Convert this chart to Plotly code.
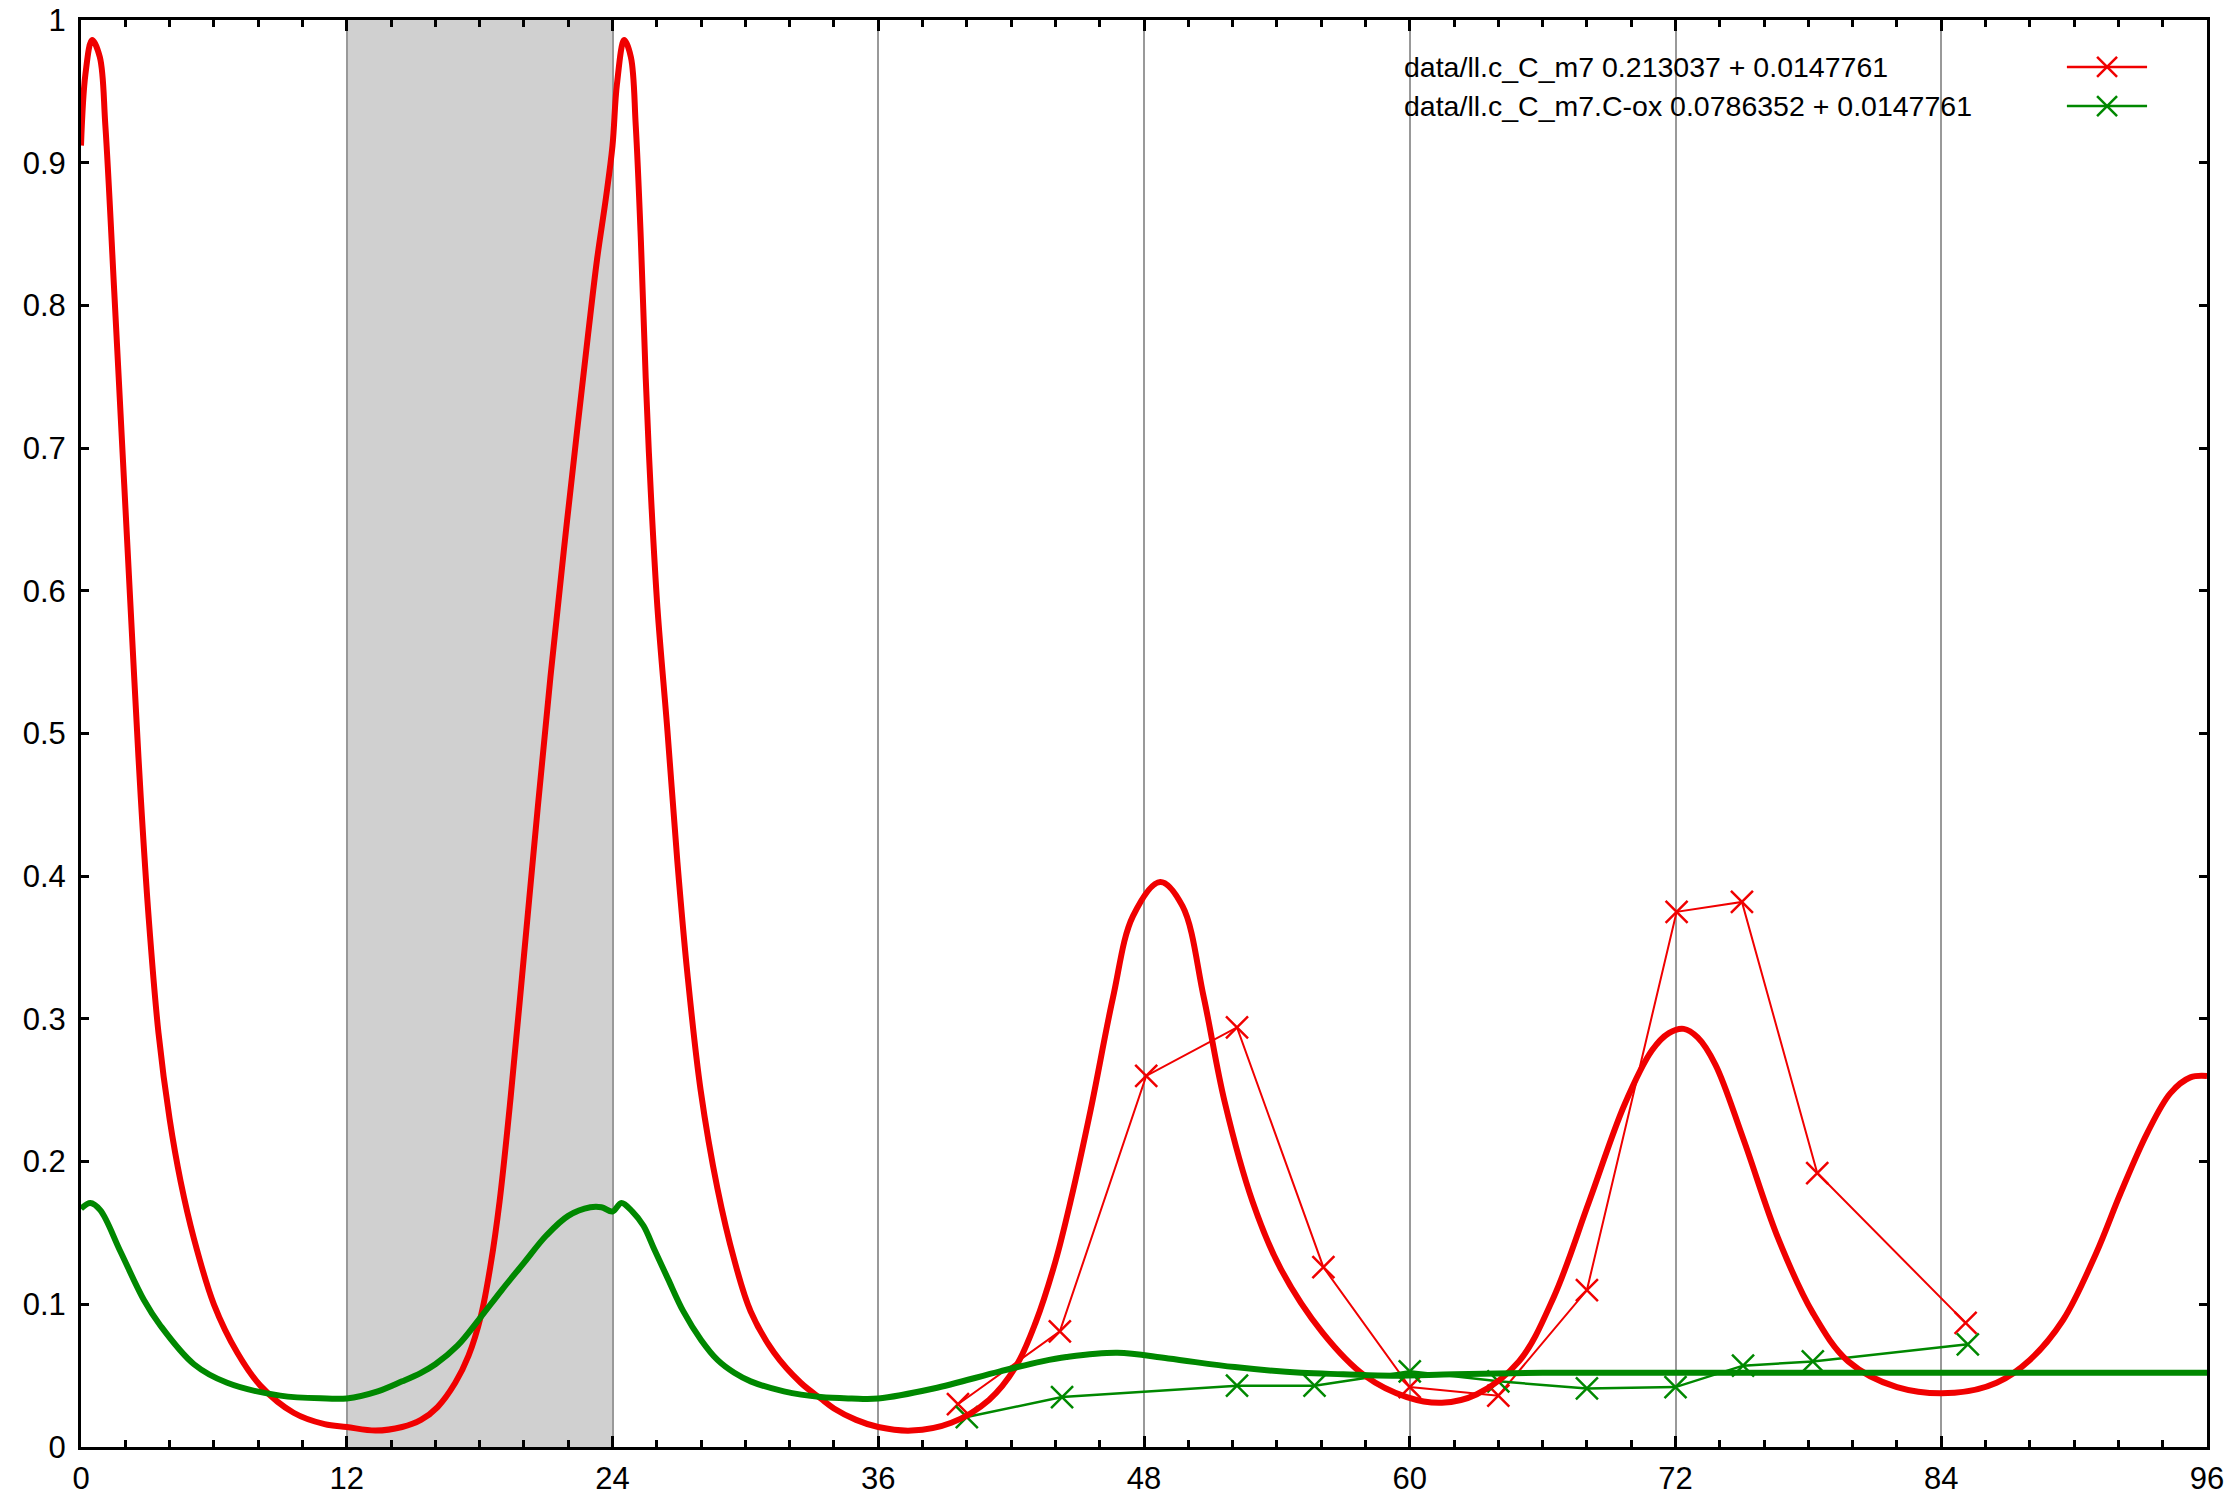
import plotly.graph_objects as go

# measured data (markers)
red_obs_t = [39.6, 44.2, 48.1, 52.2, 56.1, 60.0, 64.0, 68.0, 72.05, 75.0, 78.4, 85.1]
red_obs_v = [0.030, 0.081, 0.260, 0.294, 0.126, 0.042, 0.036, 0.110, 0.375, 0.382, 0.192, 0.087]

green_obs_t = [40.0, 44.3, 52.2, 55.7, 60.0, 64.0, 68.0, 72.0, 75.05, 78.2, 85.2]
green_obs_v = [0.021, 0.035, 0.043, 0.043, 0.053, 0.046, 0.041, 0.042, 0.057, 0.060, 0.072]

# model curves
red_fit_t = [0, 0.2, 0.5, 0.85, 1.1, 1.5, 1.8, 2.1, 2.4, 2.7, 3.06, 3.5, 4.0, 4.5, 5.1, 6.0,
             7.06, 8.1, 9.6, 11.0, 12.0, 13.3, 14.5, 15.35, 16.1, 16.9, 17.5, 18.06, 18.5,
             18.9, 19.4, 20.0, 20.6, 21.2, 21.8, 22.4, 22.9, 23.3, 23.7, 24.0, 24.2, 24.53,
             24.83, 25.05, 25.28, 25.5, 25.73, 26.03, 26.48, 26.93, 27.38, 27.98, 28.74,
             29.5, 30.24, 31.3, 32.5, 33.4, 34.0, 35.0, 36.0, 37.5, 39.3, 41.0, 42.2, 43.1,
             44.0, 44.68, 45.6, 46.6, 47.5, 48.73, 49.74, 50.7, 51.64, 52.9, 54.17, 56.07,
             57.97, 59.87, 61.45, 63.03, 64.93, 66.5, 68.1, 69.7, 70.94, 71.7, 72.37, 73.0,
             73.8, 75.06, 76.64, 78.2, 79.8, 82.0, 84.6, 86.5, 88.0, 89.5, 91.0, 92.1, 93.3,
             94.35, 95.25, 96.0]
red_fit_v = [0.912, 0.962, 0.986, 0.974, 0.926, 0.81, 0.72, 0.63, 0.54, 0.455, 0.37, 0.29,
             0.23, 0.186, 0.146, 0.100, 0.066, 0.043, 0.024, 0.016, 0.014, 0.0115, 0.014,
             0.019, 0.028, 0.045, 0.064, 0.092, 0.128, 0.172, 0.245, 0.344, 0.444, 0.540,
             0.628, 0.712, 0.78, 0.832, 0.875, 0.912, 0.955, 0.986, 0.974, 0.926, 0.846,
             0.749, 0.669, 0.588, 0.502, 0.41, 0.332, 0.250, 0.181, 0.131, 0.095, 0.066,
             0.045, 0.034, 0.027, 0.019, 0.014, 0.0115, 0.017, 0.033, 0.056, 0.087, 0.130,
             0.172, 0.237, 0.315, 0.372, 0.396, 0.379, 0.315, 0.242, 0.172, 0.125, 0.080,
             0.050, 0.035, 0.031, 0.037, 0.060, 0.105, 0.172, 0.240, 0.278, 0.290, 0.293,
             0.287, 0.268, 0.216, 0.146, 0.094, 0.060, 0.042, 0.038, 0.045, 0.061, 0.089,
             0.136, 0.178, 0.220, 0.248, 0.259, 0.260]

green_fit_t = [0, 0.42, 0.87, 1.78, 2.84, 3.59, 5.1, 6.6, 9.0, 11.1, 12.0, 13.4, 14.5, 15.35,
               16.0, 17.0, 18.0, 19.0, 20.0, 21.0, 22.0, 23.0, 23.5, 24.0, 24.4, 24.9,
               25.4, 25.9, 26.5, 27.2, 28.0, 28.74, 29.5, 30.24, 31.74, 33.4, 34.8, 36.0,
               38.5, 41.5, 43.4, 44.5, 46.8, 49.1, 52.1, 55.1, 57.0, 59.2, 62.0, 66.0, 70.0,
               75.0, 80.0, 90.0, 96.0]
green_fit_v = [0.167, 0.171, 0.166, 0.137, 0.103, 0.085, 0.058, 0.045, 0.036, 0.034, 0.034,
               0.039, 0.046, 0.052, 0.058, 0.071, 0.090, 0.110, 0.129, 0.148, 0.162, 0.168,
               0.168, 0.165, 0.171, 0.165, 0.155, 0.138, 0.118, 0.095, 0.075, 0.061, 0.052,
               0.046, 0.039, 0.035, 0.034, 0.034, 0.041, 0.053, 0.060, 0.063, 0.066, 0.062,
               0.056, 0.052, 0.051, 0.050, 0.051, 0.052, 0.052, 0.052, 0.052, 0.052, 0.052]

x_ticks = [0, 12, 24, 36, 48, 60, 72, 84, 96]
y_ticks = [0, 0.1, 0.2, 0.3, 0.4, 0.5, 0.6, 0.7, 0.8, 0.9, 1]
y_ticktext = ["0", "0.1", "0.2", "0.3", "0.4", "0.5", "0.6", "0.7", "0.8", "0.9", "1"]

legend_labels = ["data/ll.c_C_m7 0.213037 + 0.0147761",
                 "data/ll.c_C_m7.C-ox 0.0786352 + 0.0147761"]
dark_start, dark_end = 12, 24

RED = "#f00000"
GREEN = "#008800"
FONT = "Liberation Sans Narrow, Liberation Sans, Arial, sans-serif"

fig = go.Figure()

fig.add_trace(go.Scatter(x=red_obs_t, y=red_obs_v, mode="lines+markers",
                         line=dict(color=RED, width=2),
                         marker=dict(symbol="x-thin", size=22, line=dict(color=RED, width=2.5))))
fig.add_trace(go.Scatter(x=green_obs_t, y=green_obs_v, mode="lines+markers",
                         line=dict(color=GREEN, width=2.5),
                         marker=dict(symbol="x-thin", size=22, line=dict(color=GREEN, width=2.5))))
fig.add_trace(go.Scatter(x=red_fit_t, y=red_fit_v, mode="lines",
                         line=dict(color=RED, width=6, shape="spline", smoothing=1)))
fig.add_trace(go.Scatter(x=green_fit_t, y=green_fit_v, mode="lines",
                         line=dict(color=GREEN, width=6, shape="spline", smoothing=1)))

# night shading
fig.add_shape(type="rect", xref="x", yref="y", x0=dark_start, x1=dark_end, y0=0, y1=1,
              fillcolor="#d0d0d0", line=dict(width=0), layer="below")
# key background (hides grid lines behind the key)
fig.add_shape(type="rect", xref="paper", yref="paper", x0=0.618, x1=0.978, y0=0.928, y1=0.980,
              fillcolor="white", line=dict(width=0), layer="between")

# gnuplot style key: text on the left, sample on the right
key_y = [0.9671, 0.9397]
key_colors = [RED, GREEN]
sx0, sx1, sxc = 0.9341, 0.9718, 0.953
dx, dy = 0.0047, 0.0070
for lab, ky, col in zip(legend_labels, key_y, key_colors):
    fig.add_annotation(text=lab, xref="paper", yref="paper", x=0.6213, y=ky,
                       xanchor="left", yanchor="middle", showarrow=False,
                       font=dict(family=FONT, size=28.5, color="black"))
    fig.add_shape(type="line", xref="paper", yref="paper", x0=sx0, x1=sx1, y0=ky, y1=ky,
                  line=dict(color=col, width=2.5))
    fig.add_shape(type="line", xref="paper", yref="paper", x0=sxc - dx, x1=sxc + dx,
                  y0=ky - dy, y1=ky + dy, line=dict(color=col, width=2.5))
    fig.add_shape(type="line", xref="paper", yref="paper", x0=sxc - dx, x1=sxc + dx,
                  y0=ky + dy, y1=ky - dy, line=dict(color=col, width=2.5))

fig.update_layout(
    width=2238, height=1505,
    margin=dict(l=81, r=31, t=20, b=58),
    paper_bgcolor="white", plot_bgcolor="white",
    font=dict(family=FONT, size=31, color="black"),
    showlegend=False,
)
fig.update_xaxes(range=[0, 96], tickvals=x_ticks,
                 showline=True, linewidth=3, linecolor="black", mirror="allticks",
                 ticks="inside", ticklen=11, tickwidth=2.5, tickcolor="black",
                 showgrid=True, gridcolor="#999999", gridwidth=1.5, zeroline=False,
                 minor=dict(dtick=2, ticks="inside", ticklen=7, tickwidth=2.5,
                            tickcolor="black", showgrid=False),
                 ticklabelstandoff=2, ticklabeloverflow="allow", automargin=False)
fig.update_yaxes(range=[0, 1], tickvals=y_ticks, ticktext=y_ticktext,
                 showline=True, linewidth=3, linecolor="black",
                 mirror="allticks", ticks="inside", ticklen=8, tickwidth=2.5,
                 tickcolor="black", showgrid=False, zeroline=False, ticklabelstandoff=6,
                 ticklabeloverflow="allow", automargin=False)

# drop the default page margin so the figure fills the window exactly
fig.write_html("out.html", config={"displayModeBar": False},
               post_script="document.body.style.margin='0';")
